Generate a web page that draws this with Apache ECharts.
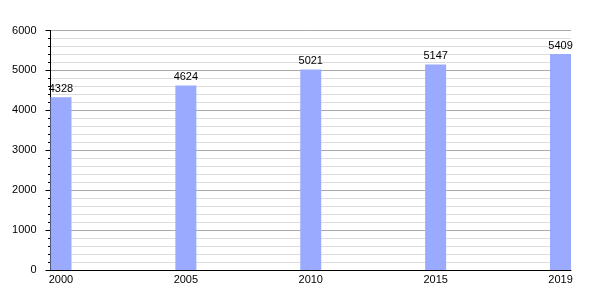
<!DOCTYPE html>
<html>
<head>
<meta charset="utf-8">
<script src="https://cdn.jsdelivr.net/npm/echarts@6/dist/echarts.min.js"></script>
<style>html,body{margin:0;padding:0;background:#fff;}#c{width:600px;height:300px;}</style>
</head>
<body>
<div id="c"></div>
<script>
const years = ['2000', '2005', '2010', '2015', '2019'];
const values = [4328, 4624, 5021, 5147, 5409];
const yTicks = [0, 1000, 2000, 3000, 4000, 5000, 6000];

const chart = echarts.init(document.getElementById('c'), null, {renderer: 'canvas'});
const font = 'Liberation Sans';
chart.setOption({
  animation: false,
  backgroundColor: '#fff',
  grid: {left: 50.5, right: 29, top: 30.5, bottom: 30, containLabel: false},
  xAxis: {
    type: 'value',
    min: -0.084,
    max: 4.084,
    splitLine: {show: false},
    axisLine: {show: true, onZero: false, lineStyle: {color: '#000', width: 1}},
    axisTick: {show: false},
    axisLabel: {
      customValues: years.map((_, i) => i),
      formatter: v => years[Math.round(v)],
      color: '#000', fontFamily: font, fontSize: 11, margin: 4
    }
  },
  yAxis: {
    type: 'value',
    min: yTicks[0],
    max: yTicks[yTicks.length - 1],
    interval: 1000,
    axisLine: {show: true, onZero: false, lineStyle: {color: '#000', width: 1}},
    axisTick: {show: true, length: 5, lineStyle: {color: '#000'}},
    minorTick: {show: true, splitNumber: 5, length: 2.5, lineStyle: {color: '#000'}},
    splitLine: {show: true, lineStyle: {color: '#aaaaaa', width: 1}},
    minorSplitLine: {show: true, lineStyle: {color: '#dddddd', width: 1}},
    axisLabel: {color: '#000', fontFamily: font, fontSize: 11, margin: 14, formatter: v => String(v)}
  },
  series: [{
    type: 'bar',
    data: values.map((v, i) => [i, v]),
    barWidth: 21,
    itemStyle: {color: '#99aaff'},
    label: {show: true, position: 'top', distance: 3, color: '#000', fontFamily: font, fontSize: 11,
      formatter: p => p.value[1]}
  }]
});
</script>
</body>
</html>
